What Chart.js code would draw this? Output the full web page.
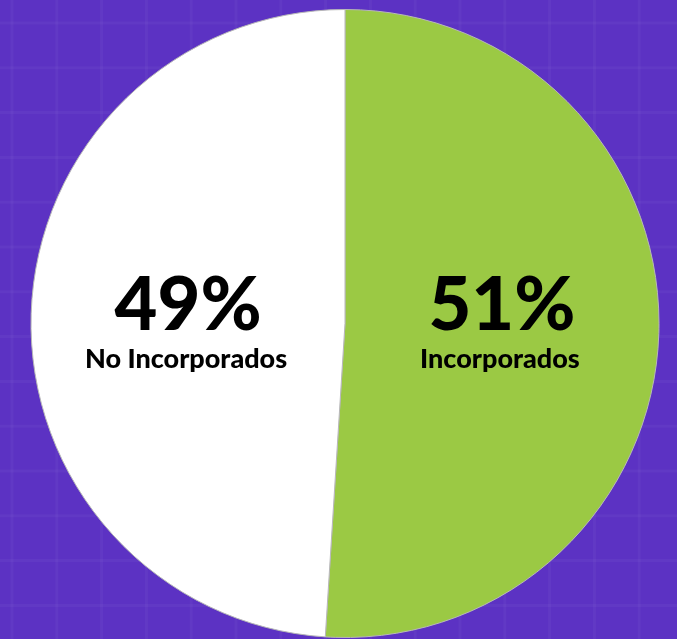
<!DOCTYPE html>
<html>
<head>
<meta charset="utf-8">
<script src="https://cdn.jsdelivr.net/npm/chart.js@4"></script>
<style>
  html, body { margin: 0; padding: 0; background: #5c32c3; overflow: hidden; }
  canvas { display: block; }
</style>
</head>
<body>
<canvas id="pie" width="677" height="639"></canvas>
<script>
// Chart data
const labels = ['Incorporados', 'No Incorporados'];
const values = [51, 49];
const sliceColors = ['#9bc944', '#ffffff'];

// Faint grid on the purple background
const gridBackground = {
  id: 'gridBackground',
  beforeDraw(chart) {
    const ctx = chart.ctx;
    const step = 44.8;
    ctx.save();
    ctx.fillStyle = '#5c32c3';
    ctx.fillRect(0, 0, chart.width, chart.height);
    ctx.strokeStyle = 'rgba(255,255,255,0.035)';
    ctx.lineWidth = 3;
    for (let x = 12; x < chart.width; x += step) {
      ctx.beginPath();
      ctx.moveTo(x, 0);
      ctx.lineTo(x, chart.height);
      ctx.stroke();
    }
    for (let y = 23; y < chart.height; y += step) {
      ctx.beginPath();
      ctx.moveTo(0, y);
      ctx.lineTo(chart.width, y);
      ctx.stroke();
    }
    ctx.restore();
  }
};

// Percent + label inside each slice
const sliceLabels = {
  id: 'sliceLabels',
  afterDatasetsDraw(chart) {
    const ctx = chart.ctx;
    const meta = chart.getDatasetMeta(0);
    const total = values.reduce((a, b) => a + b, 0);
    ctx.save();
    ctx.fillStyle = '#000';
    ctx.textAlign = 'center';
    ctx.textBaseline = 'alphabetic';
    meta.data.forEach((arc, i) => {
      const pos = arc.tooltipPosition();
      const cy = arc.y;
      const pct = Math.round(values[i] / total * 100) + '%';
      ctx.font = '900 74px Lato, sans-serif';
      ctx.fillText(pct, pos.x, cy + 6.5);
      ctx.font = '900 27px Lato, sans-serif';
      ctx.fillText(labels[i], pos.x - 2, cy + 44.5);
    });
    ctx.restore();
  }
};

new Chart(document.getElementById('pie'), {
  type: 'pie',
  data: {
    labels,
    datasets: [{
      data: values,
      backgroundColor: sliceColors,
      borderColor: '#b8b8b8',
      borderWidth: 1
    }]
  },
  options: {
    responsive: false,
    animation: false,
    layout: { padding: { top: 9, bottom: 1, left: 13, right: 0 } },
    plugins: {
      legend: { display: false },
      tooltip: { enabled: false }
    }
  },
  plugins: [gridBackground, sliceLabels]
});
</script>
</body>
</html>
